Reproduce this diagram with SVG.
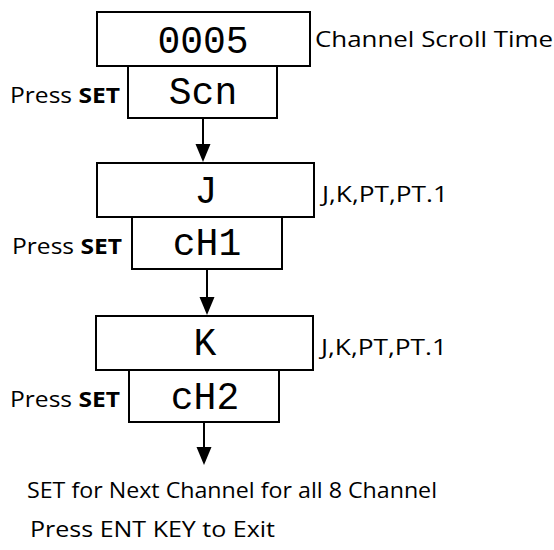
<svg xmlns="http://www.w3.org/2000/svg" width="554" height="550" viewBox="0 0 554 550">
<style>
.box{fill:#fff;stroke:#000;stroke-width:2}
.seg{font-family:"Liberation Mono","DejaVu Sans Mono",monospace;font-size:38px;fill:#000;text-anchor:middle}
.lbl{font-family:"Open Sans","Liberation Sans",sans-serif;font-size:22px;fill:#000}
.b{font-weight:bold}
.conn{stroke:#000;stroke-width:2;fill:none}
.head{fill:#000}
</style>
<g id="connectors">
<line class="conn" x1="203" y1="118" x2="203" y2="145"/>
<path class="head" d="M195.5,144 L210.5,144 L203,162 Z"/>
<line class="conn" x1="207" y1="269" x2="207" y2="298"/>
<path class="head" d="M199.5,297 L214.5,297 L207,315 Z"/>
<line class="conn" x1="204" y1="422" x2="204" y2="448"/>
<path class="head" d="M196.5,447 L211.5,447 L204,465 Z"/>
</g>
<g id="node-scroll-time">
<rect class="box" x="97" y="12" width="213" height="54"/>
<text class="seg" x="203" y="53">0005</text>
<text class="lbl" x="315" y="47" textLength="238" lengthAdjust="spacingAndGlyphs">Channel Scroll Time</text>
</g>
<g id="node-scn">
<rect class="box" x="128" y="66" width="149" height="52"/>
<text class="seg" x="203" y="104">Scn</text>
<text class="lbl" x="10" y="103" textLength="110" lengthAdjust="spacingAndGlyphs">Press <tspan class="b">SET</tspan></text>
</g>
<g id="node-ch1-type">
<rect class="box" x="97" y="163" width="217" height="54"/>
<text class="seg" x="206" y="203">J</text>
<text class="lbl" x="322" y="202" textLength="126" lengthAdjust="spacingAndGlyphs">J,K,PT,PT.1</text>
</g>
<g id="node-ch1">
<rect class="box" x="132" y="217" width="150" height="52"/>
<text class="seg" x="207" y="255">cH1</text>
<text class="lbl" x="12" y="254" textLength="110" lengthAdjust="spacingAndGlyphs">Press <tspan class="b">SET</tspan></text>
</g>
<g id="node-ch2-type">
<rect class="box" x="96" y="316" width="217" height="54"/>
<text class="seg" x="205" y="355">K</text>
<text class="lbl" x="321" y="355" textLength="126" lengthAdjust="spacingAndGlyphs">J,K,PT,PT.1</text>
</g>
<g id="node-ch2">
<rect class="box" x="129" y="370" width="150" height="52"/>
<text class="seg" x="205" y="409">cH2</text>
<text class="lbl" x="10" y="407" textLength="110" lengthAdjust="spacingAndGlyphs">Press <tspan class="b">SET</tspan></text>
</g>
<g id="notes">
<text class="lbl" x="27" y="498" textLength="410" lengthAdjust="spacingAndGlyphs">SET for Next Channel for all 8 Channel</text>
<text class="lbl" x="30" y="537" textLength="245" lengthAdjust="spacingAndGlyphs">Press ENT KEY to Exit</text>
</g>
</svg>
